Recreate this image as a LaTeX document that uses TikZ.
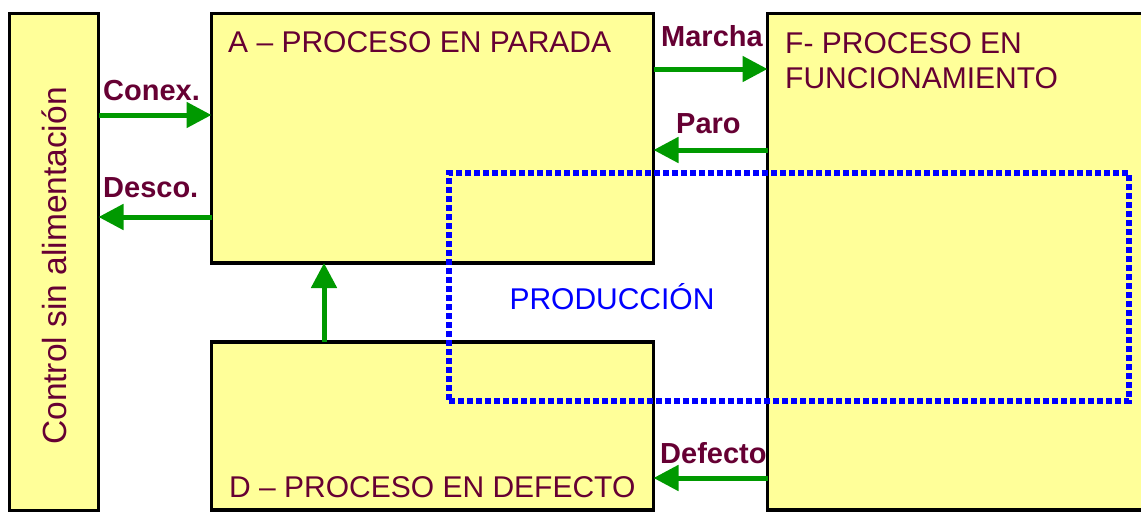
\documentclass[tikz,border=0pt]{standalone}
\usepackage{fontspec}
\setmainfont{Liberation Sans}
\usetikzlibrary{arrows.meta}
\definecolor{amarillo}{RGB}{255,255,153}
\definecolor{granate}{RGB}{102,0,51}
\definecolor{verde}{RGB}{0,153,0}
\definecolor{azul}{RGB}{0,0,255}

\begin{document}
\begin{tikzpicture}[x=1pt, y=-1pt,
  caja/.style = {shape=rectangle, draw=black, line width=3.5pt,
    fill=amarillo, anchor=north west, inner sep=0pt, outer sep=0pt},
  titulo/.style = {inner sep=0pt, text=granate, align=left,
    font=\fontsize{30}{35}\selectfont},
  etiqueta/.style = {anchor=base west, inner sep=0pt, text=granate,
    font=\fontsize{29}{34}\selectfont\bfseries},
  flecha/.style = {draw=verde, line width=5pt,
    -{Triangle[length=25pt,width=25pt]}}]
  \useasboundingbox (0,0) rectangle (1141,512);
  % cajas
  \node[caja, minimum width=89, minimum height=497] (ctrl) at (9.5,13.5) {};
  \node[caja, minimum width=442, minimum height=249.5] (A) at (211.5,13.5) {};
  \node[caja, minimum width=442, minimum height=168] (D) at (211.5,342) {};
  \node[caja, minimum width=400, minimum height=496.5] (F) at (767.5,13.5) {};
  % textos
  \node[rotate=90, inner sep=0pt, text=granate,
    font=\fontsize{33.5}{38}\selectfont] (tctrl) at (54,266) {Control sin alimentación};
  \node[titulo, anchor=base west] (tA) at (228,52) {A – PROCESO EN PARADA};
  \node[titulo, anchor=north west] (tF) at (785,32) {F- PROCESO EN\\FUNCIONAMIENTO};
  \node[titulo, anchor=base west] (tD) at (229,497) {D – PROCESO EN DEFECTO};
  % zona de produccion
  \node[draw=azul, line width=6pt, dash pattern=on 6pt off 3pt,
    minimum width=680, minimum height=228, inner sep=0pt, outer sep=0pt,
    anchor=north west] (zona) at (449,173) {};
  \node[anchor=base, inner sep=0pt, text=azul,
    font=\fontsize{30}{35}\selectfont] (tzona) at (612,309) {PRODUCCIÓN};
  % transiciones
  \draw[flecha] (ctrl.east |- 0,115) -- (A.west |- 0,115);
  \draw[flecha] (A.west |- 0,217) -- (ctrl.east |- 0,217);
  \draw[flecha] (A.east |- 0,69) -- (F.west |- 0,69);
  \draw[flecha] (F.west |- 0,150) -- (A.east |- 0,150);
  \draw[flecha] (D.north -| 324,0) -- (A.south -| 324,0);
  \draw[flecha] (F.west |- 0,478) -- (D.east |- 0,478);
  \node[etiqueta] (lconex) at (103,100) {Conex.};
  \node[etiqueta] (ldesco) at (103,197) {Desco.};
  \node[etiqueta] (lmarcha) at (661,46) {Marcha};
  \node[etiqueta] (lparo) at (676,133) {Paro};
  \node[etiqueta] (ldefecto) at (660,463) {Defecto};
\end{tikzpicture}
\end{document}
